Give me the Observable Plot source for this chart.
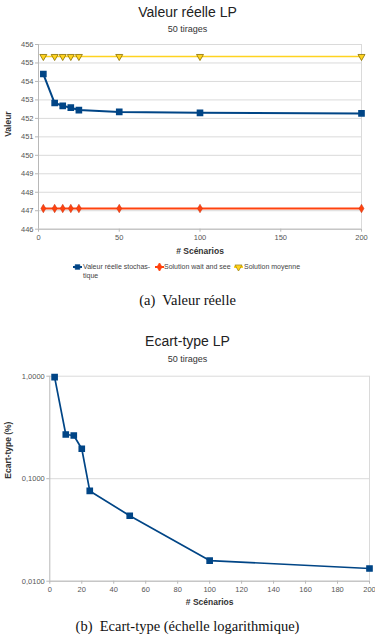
<!DOCTYPE html>
<html><head><meta charset="utf-8">
<script src="https://cdn.jsdelivr.net/npm/d3@7"></script>
<script src="https://cdn.jsdelivr.net/npm/@observablehq/plot@0.6"></script>
<style>
body{margin:0;background:#fff;}
#page{position:relative;width:375px;height:637px;overflow:hidden;font-family:"Liberation Sans",Arial,sans-serif;background:#fff;}
.abs{position:absolute;left:0;width:375px;text-align:center;white-space:nowrap;}
.title{font-size:14px;line-height:14px;color:#222;}
.sub{font-size:9px;line-height:9px;color:#333;}
.cap{font-family:"Liberation Serif","Times New Roman",serif;font-size:14.5px;line-height:15px;color:#111;}
.chart{position:absolute;left:0;}
.leg{position:absolute;font-size:7px;line-height:8.5px;color:#444;white-space:nowrap;}
.leg svg{position:absolute;}
</style></head>
<body>
<div id="page">
  <div class="abs title" style="top:5px">Valeur réelle LP</div>
  <div class="abs sub" style="top:24.5px">50 tirages</div>
  <div class="chart" id="c1" style="top:36px"></div>
  <div id="legend"></div>
  <div class="abs cap" style="top:293px">(a)&nbsp; Valeur réelle</div>
  <div class="abs title" style="top:333.7px">Ecart-type LP</div>
  <div class="abs sub" style="top:354.8px">50 tirages</div>
  <div class="chart" id="c2" style="top:366px"></div>
  <div class="abs cap" style="top:619px">(b)&nbsp; Ecart-type (échelle logarithmique)</div>
</div>
<script>
// ---- data ----
const scenarios = [3, 10, 15, 20, 25, 50, 100, 200];
const valeurStochastique = [454.40, 452.83, 452.68, 452.58, 452.45, 452.35, 452.30, 452.27];
const waitAndSee = [447.12, 447.12, 447.12, 447.12, 447.12, 447.12, 447.12, 447.12];
const solutionMoyenne = [455.35, 455.35, 455.35, 455.35, 455.35, 455.35, 455.35, 455.35];
const ecartType = [0.98, 0.27, 0.264, 0.196, 0.076, 0.0435, 0.0159, 0.0133];
const xTicks1 = [0, 50, 100, 150, 200];
const yTicks1 = [446, 447, 448, 449, 450, 451, 452, 453, 454, 455, 456];
const xTicks2 = [0, 20, 40, 60, 80, 100, 120, 140, 160, 180, 200];
const yTicks2 = [0.01, 0.1, 1];
const seriesNames = ["Valeur réelle stochas-\ntique", "Solution wait and see", "Solution moyenne"];

const BLUE = "#004586", RED = "#ff420e", YEL = "#ffd320";
const AX = "#b8b8b8", GRID = "#dadada", TXT = "#555";

const rows = (ys) => scenarios.map((x, i) => ({x, y: ys[i]}));

const c1 = Plot.plot({
  width: 375, height: 226,
  marginTop: 8, marginBottom: 33.3, marginLeft: 38, marginRight: 14,
  style: {fontFamily: "Liberation Sans, Arial, sans-serif", fontSize: "7.5px", color: TXT, background: "transparent"},
  x: {domain: [0, 200]},
  y: {domain: [446, 456]},
  marks: [
    Plot.gridY(yTicks1, {stroke: GRID, strokeOpacity: 1}),
    Plot.ruleX([200], {stroke: GRID}),
    Plot.axisY(yTicks1, {tickSize: 3, tickPadding: 2, stroke: AX, fill: TXT, label: null}),
    Plot.axisX(xTicks1, {tickSize: 3, tickPadding: 2, stroke: AX, fill: TXT, label: null}),
    Plot.ruleX([0], {stroke: AX}),
    Plot.ruleY([446], {stroke: AX}),
    Plot.line(rows(solutionMoyenne), {x: "x", y: "y", stroke: YEL, strokeWidth: 1.6}),
    Plot.dot(rows(solutionMoyenne), {x: "x", y: "y", symbol: "triangle", rotate: 180, r: 2.6, fill: YEL, stroke: "#8a7000", strokeWidth: 0.8}),
    Plot.line(rows(waitAndSee), {x: "x", y: "y", stroke: RED, strokeWidth: 2}),
    Plot.dot(rows(waitAndSee), {x: "x", y: "y", symbol: "diamond", r: 2.6, fill: RED, stroke: "#c83010", strokeWidth: 0.5}),
    Plot.line(rows(valeurStochastique), {x: "x", y: "y", stroke: BLUE, strokeWidth: 2}),
    Plot.dot(rows(valeurStochastique), {x: "x", y: "y", symbol: "square", r: 2.9, fill: BLUE, stroke: BLUE}),
    Plot.text(["# Scénarios"], {text: d => d, frameAnchor: "bottom", dy: 25, fontSize: 8.5, fontWeight: "bold", fill: "#333"}),
    Plot.text(["Valeur"], {text: d => d, frameAnchor: "left", dx: -30, rotate: -90, fontSize: 8.5, fontWeight: "bold", fill: "#333"})
  ]
});
document.getElementById("c1").appendChild(c1);

const fmt = d => d.toFixed(4).replace(".", ",");
const c2 = Plot.plot({
  width: 375, height: 246,
  marginTop: 9.7, marginBottom: 31.3, marginLeft: 49.3, marginRight: 6,
  style: {fontFamily: "Liberation Sans, Arial, sans-serif", fontSize: "7.5px", color: TXT, background: "transparent"},
  x: {domain: [0, 200]},
  y: {type: "log", domain: [0.01, 1]},
  marks: [
    Plot.gridY(yTicks2, {stroke: GRID, strokeOpacity: 1}),
    Plot.ruleX([200], {stroke: GRID}),
    Plot.axisY(yTicks2, {tickSize: 3, tickPadding: 2, stroke: AX, fill: TXT, label: null, tickFormat: fmt}),
    Plot.axisX(xTicks2, {tickSize: 3, tickPadding: 2, stroke: AX, fill: TXT, label: null}),
    Plot.ruleX([0], {stroke: AX}),
    Plot.ruleY([0.01], {stroke: AX}),
    Plot.line(rows(ecartType), {x: "x", y: "y", stroke: BLUE, strokeWidth: 1.7}),
    Plot.dot(rows(ecartType), {x: "x", y: "y", symbol: "square", r: 2.9, fill: BLUE, stroke: BLUE}),
    Plot.text(["# Scénarios"], {text: d => d, frameAnchor: "bottom", dy: 23.6, fontSize: 8.5, fontWeight: "bold", fill: "#333"}),
    Plot.text(["Ecart-type (%)"], {text: d => d, frameAnchor: "left", dx: -42, rotate: -90, fontSize: 8.5, fontWeight: "bold", fill: "#333"})
  ]
});
document.getElementById("c2").appendChild(c2);

// ---- legend (HTML) ----
const legend = d3.select("#legend");
const legItems = [
  {name: seriesNames[0], color: BLUE, sym: "square", symX: 73, textX: 83},
  {name: seriesNames[1], color: RED, sym: "diamond", symX: 155, textX: 164},
  {name: seriesNames[2], color: YEL, sym: "triangle", symX: 234, textX: 244}
];
legItems.forEach(it => {
  const lines = it.name.split("\n");
  const div = legend.append("div").attr("class", "leg")
    .style("left", it.textX + "px").style("top", "263px");
  lines.forEach((l, i) => { if (i) div.append("br"); div.append("span").text(l); });
  const svg = legend.append("svg").attr("width", 10).attr("height", 8)
    .style("position", "absolute").style("left", it.symX + "px").style("top", "263.3px");
  svg.append("line").attr("x1", 0).attr("x2", 9).attr("y1", 4).attr("y2", 4)
    .attr("stroke", it.color).attr("stroke-width", 2);
  const type = it.sym === "square" ? d3.symbolSquare : it.sym === "diamond" ? d3.symbolDiamond : d3.symbolTriangle;
  svg.append("path").attr("d", d3.symbol(type, 22)())
    .attr("transform", "translate(4.5,4)" + (it.sym === "triangle" ? " rotate(180)" : ""))
    .attr("fill", it.color).attr("stroke", it.sym === "triangle" ? "#8a7000" : it.color).attr("stroke-width", 0.6);
});
</script>
</body></html>
